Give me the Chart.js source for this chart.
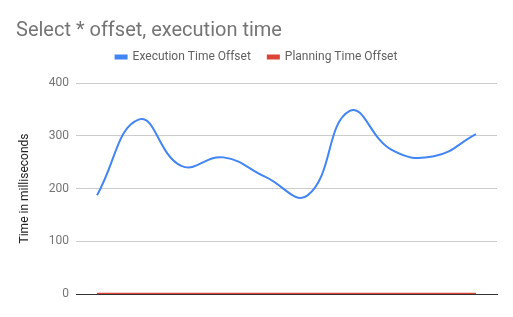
<!DOCTYPE html>
<html>
<head>
<meta charset="utf-8">
<script src="https://cdn.jsdelivr.net/npm/chart.js@4"></script>
<style>
  html, body { margin: 0; padding: 0; background: #fff; }
  #wrap { width: 513px; height: 317px; }
</style>
</head>
<body>
<div id="wrap"><canvas id="chart" width="513" height="317"></canvas></div>
<script>
// runs of the query, one per category (no labels shown on the axis)
const categories = ['1', '2', '3', '4', '5', '6', '7', '8', '9', '10'];
const executionTime = [187, 331, 243, 259, 222, 187, 347, 273, 261, 303];
const planningTime = [0.6, 0.5, 0.7, 0.6, 0.5, 0.5, 0.6, 0.5, 0.5, 0.7];
const yTicks = [0, 100, 200, 300, 400];

// extra room under the legend
const legendGap = {
  id: 'legendGap',
  beforeInit(chart) {
    const fit = chart.legend.fit;
    chart.legend.fit = function () {
      fit.bind(chart.legend)();
      this.height += 10;
    };
  }
};

const ctx = document.getElementById('chart').getContext('2d');
new Chart(ctx, {
  type: 'line',
  data: {
    labels: categories,
    datasets: [{
      label: 'Execution Time Offset',
      data: executionTime,
      borderColor: '#4285f4',
      backgroundColor: '#4285f4',
      borderWidth: 2,
      pointRadius: 0,
      tension: 0.45
    }, {
      label: 'Planning Time Offset',
      data: planningTime,
      borderColor: '#db4437',
      backgroundColor: '#db4437',
      borderWidth: 2,
      pointRadius: 0,
      tension: 0.45
    }]
  },
  options: {
    responsive: false,
    animation: false,
    layout: { padding: { left: 16, right: 16, bottom: 23, top: 0 } },
    plugins: {
      title: {
        display: true,
        text: 'Select * offset, execution time',
        align: 'start',
        color: '#757575',
        font: { family: 'Roboto', size: 20, weight: 'normal' },
        padding: { top: 19, bottom: -9 }
      },
      legend: {
        position: 'top',
        labels: {
          boxWidth: 11,
          boxHeight: 3,
          color: '#616161',
          font: { family: 'Roboto', size: 12 },
          padding: 17
        }
      },
      tooltip: { enabled: false }
    },
    scales: {
      x: {
        offset: true,
        grid: { display: false, drawTicks: false },
        border: { display: true, color: '#333333', width: 1 },
        ticks: { display: false },
        afterFit: (scale) => { scale.height = 0; }
      },
      y: {
        min: 0,
        max: 400,
        afterBuildTicks: (scale) => { scale.ticks = yTicks.map(v => ({ value: v })); },
        grid: { color: '#cccccc', drawTicks: false },
        border: { display: false },
        ticks: {
          color: '#757575',
          padding: 7,
          font: { family: 'Roboto', size: 12 }
        },
        title: {
          display: true,
          text: 'Time in milliseconds',
          color: '#222222',
          padding: { top: 2, bottom: 0 },
          font: { family: 'Roboto', size: 12 }
        },
        afterFit: (scale) => { scale.width = 60; }
      }
    }
  },
  plugins: [legendGap]
});
</script>
</body>
</html>
